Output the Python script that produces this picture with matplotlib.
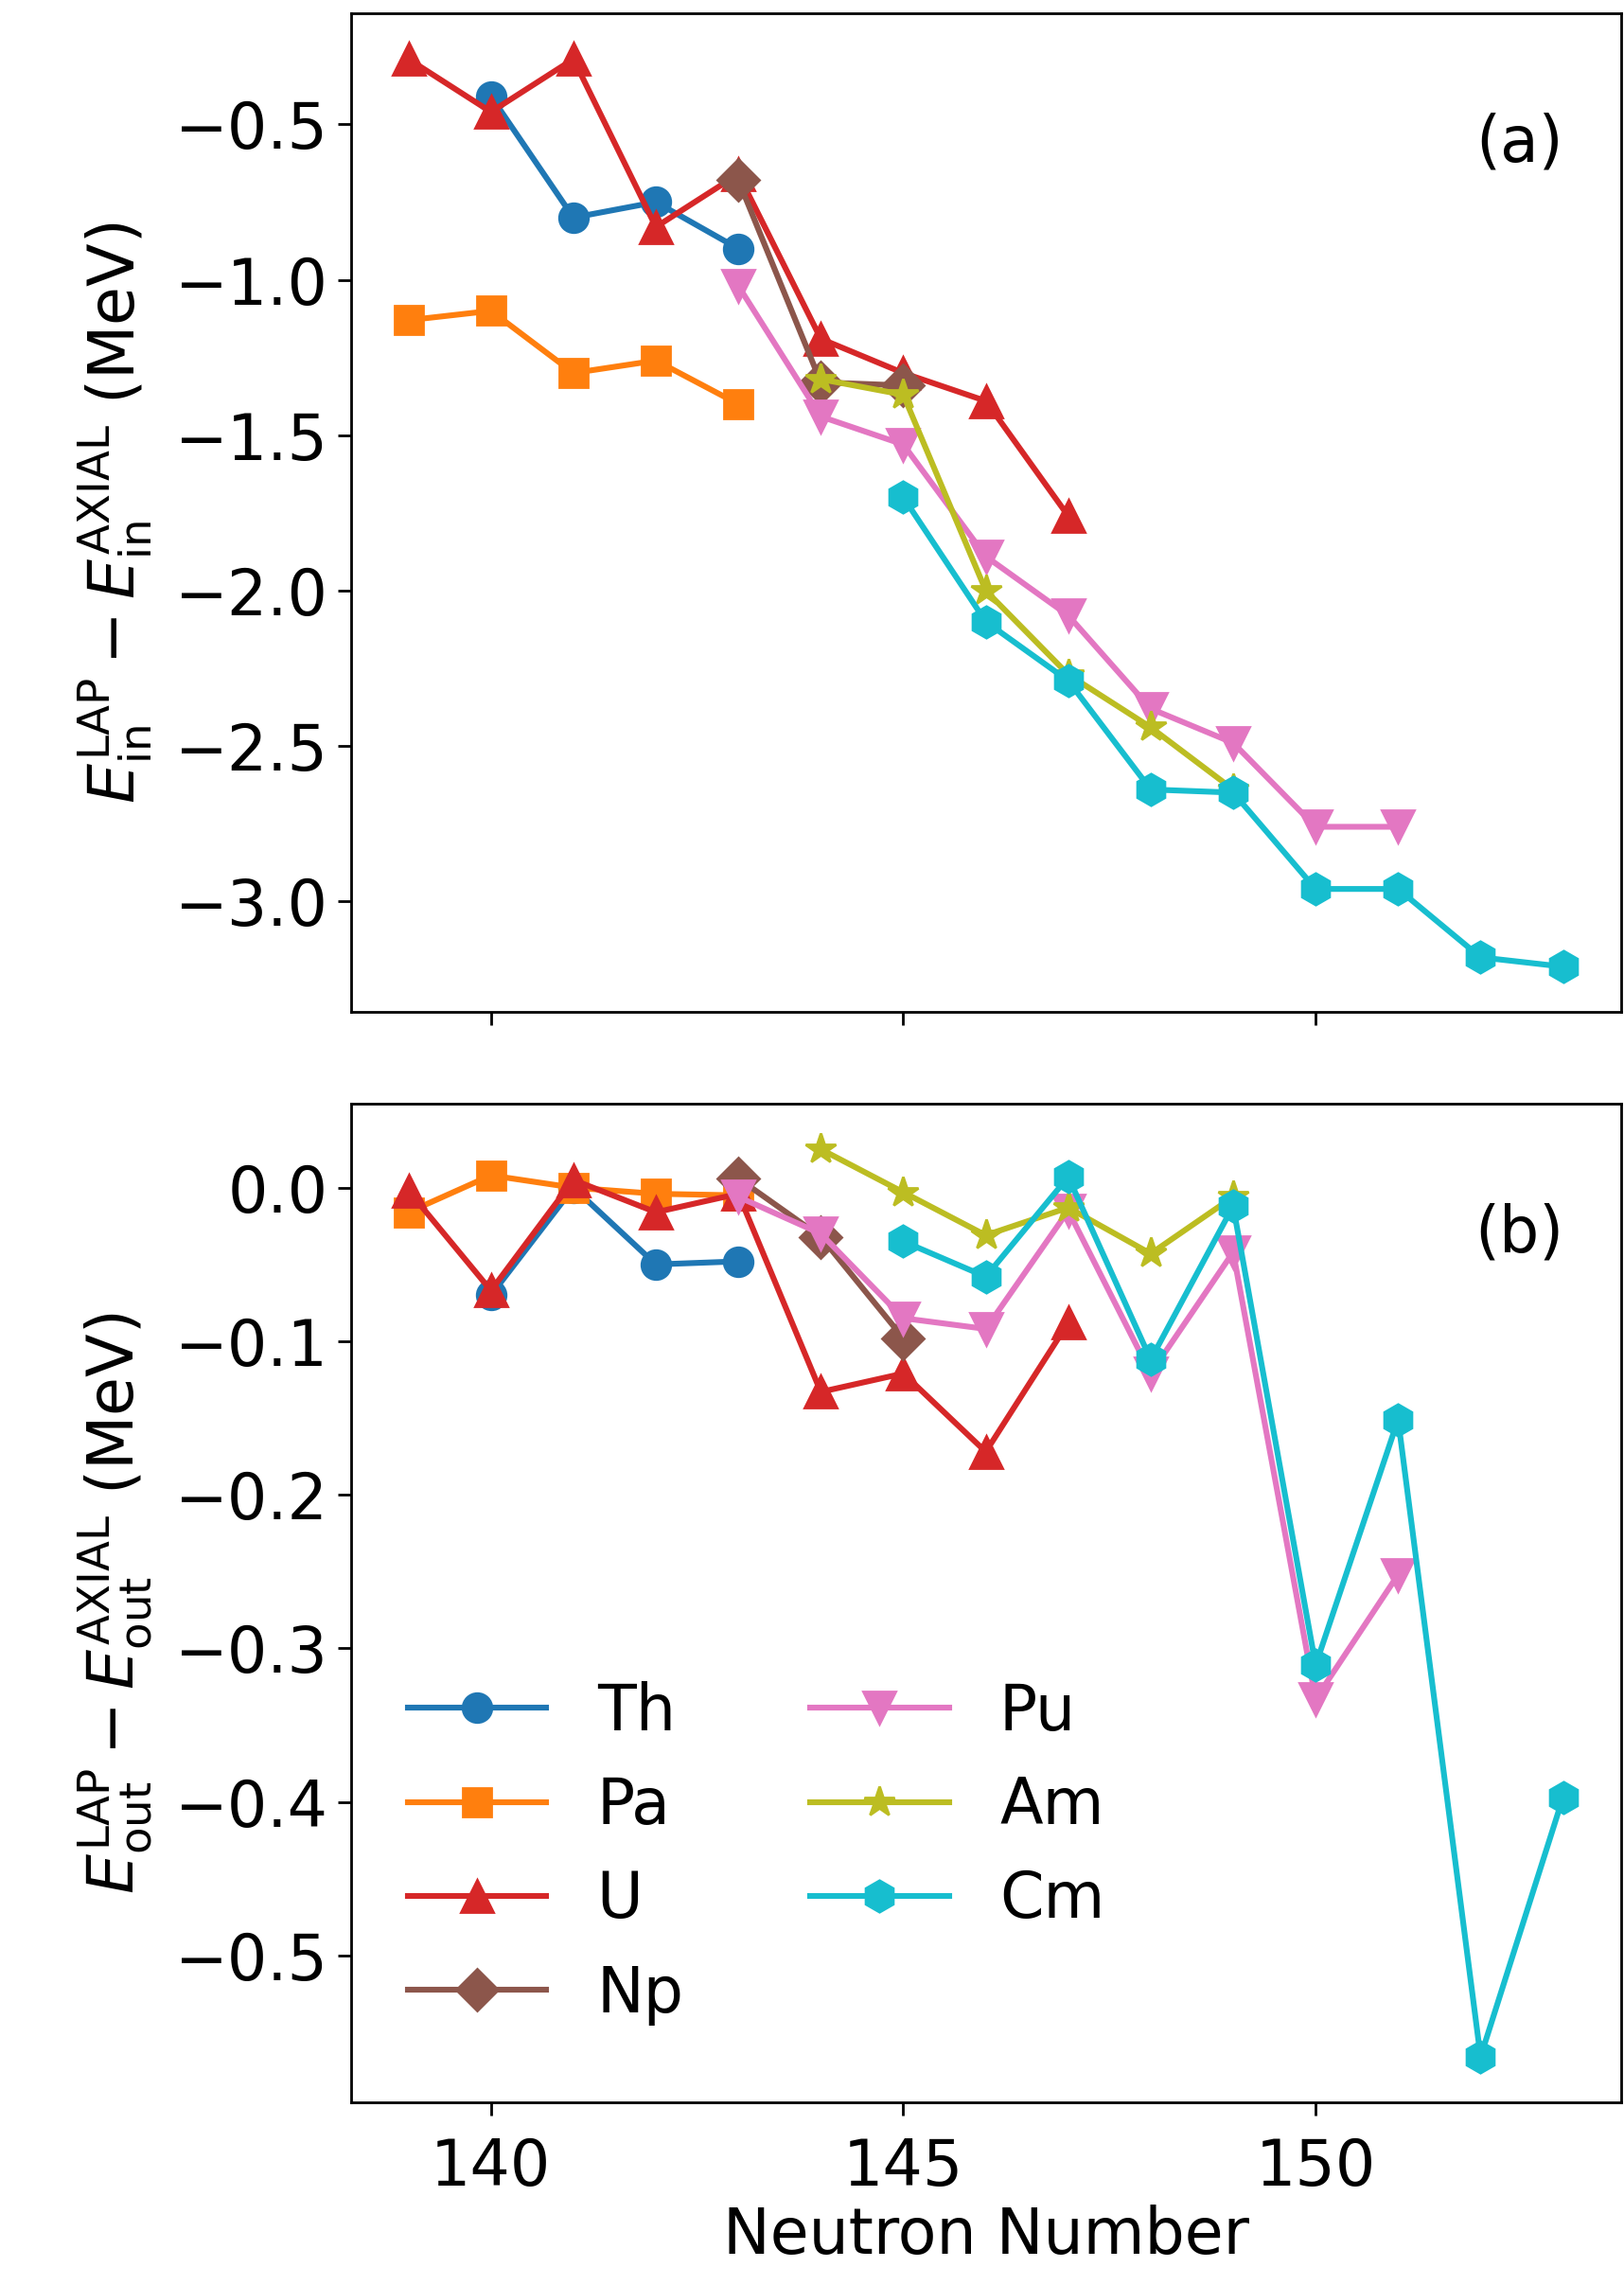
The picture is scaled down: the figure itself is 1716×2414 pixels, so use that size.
import matplotlib
matplotlib.use('Agg')
import matplotlib.pyplot as plt

# neutron numbers and energy differences (MeV) per element
th_n = [140, 141, 142, 143]
th_in = [-0.41, -0.80, -0.75, -0.90]
th_out = [-0.070, 0.000, -0.050, -0.048]

pa_n = [139, 140, 141, 142, 143]
pa_in = [-1.13, -1.10, -1.30, -1.26, -1.40]
pa_out = [-0.016, 0.008, 0.000, -0.004, -0.005]

u_n = [139, 140, 141, 142, 143, 144, 145, 146, 147]
u_in = [-0.29, -0.46, -0.29, -0.83, -0.66, -1.19, -1.30, -1.39, -1.76]
u_out = [-0.002, -0.067, 0.005, -0.016, -0.004, -0.133, -0.121, -0.172, -0.088]

np_n = [143, 144, 145]
np_in = [-0.68, -1.33, -1.34]
np_out = [0.006, -0.032, -0.098]

pu_n = [143, 144, 145, 146, 147, 148, 149, 150, 151]
pu_in = [-1.02, -1.44, -1.53, -1.89, -2.08, -2.38, -2.49, -2.76, -2.76]
pu_out = [-0.006, -0.030, -0.085, -0.092, -0.015, -0.121, -0.042, -0.333, -0.252]

am_n = [144, 145, 146, 147, 148, 149]
am_in = [-1.32, -1.37, -2.00, -2.27, -2.44, -2.64]
am_out = [0.025, -0.003, -0.031, -0.013, -0.043, -0.006]

cm_n = [145, 146, 147, 148, 149, 150, 151, 152, 153]
cm_in = [-1.70, -2.10, -2.29, -2.64, -2.65, -2.96, -2.96, -3.18, -3.21]
cm_out = [-0.035, -0.058, 0.007, -0.112, -0.012, -0.311, -0.151, -0.566, -0.397]

series = [
    ('Th', th_n, th_in, th_out, 'tab:blue', 'o', 11),
    ('Pa', pa_n, pa_in, pa_out, 'tab:orange', 's', 11),
    ('U', u_n, u_in, u_out, 'tab:red', '^', 12),
    ('Np', np_n, np_in, np_out, 'tab:brown', 'D', 11),
    ('Pu', pu_n, pu_in, pu_out, 'tab:pink', 'v', 12),
    ('Am', am_n, am_in, am_out, 'tab:olive', '*', 12),
    ('Cm', cm_n, cm_in, cm_out, 'tab:cyan', 'h', 12),
]

plt.rcParams.update({'font.size': 24})

fig, (ax_in, ax_out) = plt.subplots(2, 1, sharex=True, figsize=(8.58, 12.07), dpi=200)
fig.subplots_adjust(left=0.216, right=0.998, top=0.994, bottom=0.08, hspace=0.092)

for name, n, e_in, e_out, color, marker, ms in series:
    ax_in.plot(n, e_in, color=color, marker=marker, markersize=ms, linewidth=2.2, label=name)
    ax_out.plot(n, e_out, color=color, marker=marker, markersize=ms, linewidth=2.2, label=name)

ax_in.set_ylabel(r'$E_{\rm in}^{\rm LAP} - E_{\rm in}^{\rm AXIAL}$ (MeV)', labelpad=8)
ax_out.set_ylabel(r'$E_{\rm out}^{\rm LAP} - E_{\rm out}^{\rm AXIAL}$ (MeV)', labelpad=8)
ax_out.set_xlabel('Neutron Number', labelpad=2)

ax_in.set_xticks([140, 145, 150])
ax_in.set_yticks([-0.5, -1.0, -1.5, -2.0, -2.5, -3.0])
ax_out.set_yticks([0.0, -0.1, -0.2, -0.3, -0.4, -0.5])

for ax in (ax_in, ax_out):
    ax.tick_params(length=5, width=1.0)
    ax.tick_params(axis='x', pad=8)
    for sp in ax.spines.values():
        sp.set_linewidth(1.0)

ax_in.text(0.92, 0.87, '(a)', transform=ax_in.transAxes, ha='center', va='center')
ax_out.text(0.92, 0.87, '(b)', transform=ax_out.transAxes, ha='center', va='center')

ax_out.legend(loc='lower left', ncol=2, frameon=False, bbox_to_anchor=(0.0, 0.02),
              handlelength=2.2)

plt.savefig('out.png')
